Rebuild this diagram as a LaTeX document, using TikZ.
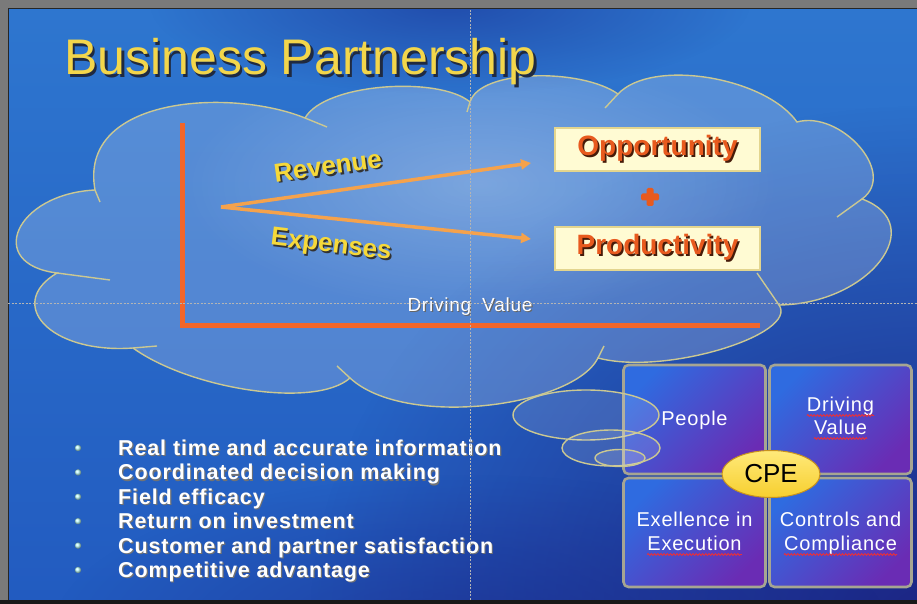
\documentclass[tikz,border=0pt]{standalone}
\usepackage{fontspec}
\setmainfont{Liberation Sans}
\newfontfamily\spacedsans[LetterSpace=4]{Liberation Sans}
\usetikzlibrary{arrows.meta,fadings,shapes.geometric,decorations.pathmorphing}

\definecolor{frame}{HTML}{7A7A7A}
\definecolor{bgtop}{HTML}{2E76CF}
\definecolor{bgmid}{HTML}{2F80D6}
\definecolor{bgbot}{HTML}{225BC0}
\definecolor{bgdeep}{HTML}{1B1E7C}
\definecolor{bgnavy}{HTML}{1C3C9E}
\definecolor{cloudedge}{HTML}{CBC892}
\definecolor{axisorange}{HTML}{F2662A}
\definecolor{arroworange}{HTML}{F5A24C}
\definecolor{titleyellow}{HTML}{F3D64B}
\definecolor{labelyellow}{HTML}{F6D93A}
\definecolor{wordorange}{HTML}{E85A1E}
\definecolor{boxcream}{HTML}{FFFBD3}
\definecolor{boxcreamedge}{HTML}{E3D58E}
\definecolor{quadblue}{HTML}{2F6BE0}
\definecolor{quadpurple}{HTML}{6A2CB4}
\definecolor{quadedge}{HTML}{A6A592}
\definecolor{cpeyellow}{HTML}{F7CF2E}
\definecolor{cpelight}{HTML}{FFE97A}
\definecolor{cpeedge}{HTML}{C8921E}
\definecolor{guide}{HTML}{B4B4B4}
\definecolor{spell}{HTML}{E8303A}
\definecolor{shadowdark}{HTML}{202A40}

\tikzfading[name=softglow, inner color=transparent!35, outer color=transparent!100]
\tikzfading[name=darkcorner, inner color=transparent!0, outer color=transparent!100]

% text with a dark copy offset down and right
\newcommand\dropshadow[3]{\makebox[0pt][l]{\kern#1\raisebox{-#1}{\textcolor{#2}{#3}}}#3}
\newcommand\quadfont{\spacedsans\fontsize{20}{23}\selectfont}
\newlength\spellw

% outline of the large cloud
\newcommand\cloudshape{(95,414) .. controls (78,508) and (231,516) .. (305,486)
 .. controls (325,521) and (439,528) .. (470,502)
 .. controls (480,535) and (581,536) .. (618,510)
 .. controls (652,546) and (765,527) .. (797,482)
 .. controls (840,494) and (898,431) .. (862,405)
 .. controls (930,380) and (870,300) .. (779,299)
 .. controls (799,270) and (666,228) .. (598,246)
 .. controls (573,197) and (405,175) .. (350,226)
 .. controls (315,195) and (190,215) .. (133,256)
 .. controls (50,250) and (5,300) .. (57,331)
 .. controls (-15,340) and (15,410) .. (95,414) -- cycle}

\begin{document}
\begin{tikzpicture}[x=1pt,y=1pt,
  cloudline/.style={draw=cloudedge, line width=1.4pt},
  quad/.style={draw=quadedge, line width=2.6pt, rounded corners=5pt,
     top color=quadblue, bottom color=quadpurple, shading angle=45,
     minimum width=142pt, minimum height=109pt, inner sep=0pt},
  quadtext/.style={anchor=base, inner sep=0pt, text=white, font=\quadfont},
  spellwave/.style={draw=spell, line width=0.9pt, decorate,
     decoration={snake, amplitude=0.9pt, segment length=3.2pt}},
  creambox/.style={fill=boxcream, draw=boxcreamedge, line width=1.2pt,
     minimum width=205pt, minimum height=43pt, inner sep=0pt,
     font=\bfseries\fontsize{28}{30}\selectfont, text=wordorange},
  slantlabel/.style={inner sep=0pt, font=\bfseries\fontsize{26}{28}\selectfont, text=labelyellow},
  flowarrow/.style={draw=arroworange, line width=3.5pt, -{Triangle[length=10pt,width=10pt]}},
  bulletline/.style={anchor=west, inner sep=0pt, text=white, text height=15pt, text depth=0pt,
     font=\spacedsans\bfseries\fontsize{21.5}{24}\selectfont},
  bulletdot/.style={circle, inner sep=0pt, minimum size=6.5pt, ball color=cyan!25!white},
  tailbubble/.style={cloudline, fill=white, fill opacity=0.13},
  guideline/.style={draw=guide, line width=0.7pt, dash pattern=on 2pt off 1.5pt}
]
\useasboundingbox (0,0) rectangle (917,604);

% screen frame and slide background
\fill[frame] (0,0) rectangle (917,604);
\fill[black!90] (0,0) rectangle (917,4);
\begin{scope}
  \clip (8,4) rectangle (917,595);
  \shade[top color=bgtop, middle color=bgmid, bottom color=bgbot] (8,4) rectangle (917,595);
  \fill[bgdeep, path fading=darkcorner, fill opacity=0.9] (930,-20) ellipse [x radius=620pt, y radius=520pt];
  \fill[bgdeep, path fading=darkcorner, fill opacity=0.45] (470,-30) ellipse [x radius=420pt, y radius=160pt];
  \fill[bgnavy, path fading=darkcorner, fill opacity=0.7] (450,600) ellipse [x radius=300pt, y radius=90pt];
\end{scope}
\draw[black!85, line width=1pt] (8,4) -- (8,595) -- (917,595);

% cloud
\fill[white, fill opacity=0.2] \cloudshape;
\begin{scope}
  \clip \cloudshape;
  \fill[white, path fading=softglow, fill opacity=0.35] (480,420) ellipse [x radius=300pt, y radius=130pt];
\end{scope}
\draw[cloudline] \cloudshape;
\draw[cloudline] (95,414) -- (100,402);
\draw[cloudline] (305,486) -- (327,477);
\draw[cloudline] (470,502) -- (467,492);
\draw[cloudline] (618,510) -- (605,496);
\draw[cloudline] (862,405) -- (837,387);
\draw[cloudline] (779,299) -- (757,331);
\draw[cloudline] (598,246) -- (604,258);
\draw[cloudline] (350,226) -- (337,238);
\draw[cloudline] (133,256) -- (157,258);
\draw[cloudline] (57,331) -- (110,324);

% value axes
\coordinate (axistop) at (182,481);
\coordinate (axiscorner) at (182,278);
\coordinate (axisend) at (760,278);
\draw[axisorange, line width=5pt] (axistop) -- (axiscorner) -- (axisend);
\node[inner sep=0pt, text=white, font=\spacedsans\fontsize{19}{21}\selectfont] (drivingvalue) at (470,297)
  {\dropshadow{1.2pt}{black!60}{Driving\hspace{5pt} Value}};

% revenue / expenses flows
\coordinate (fork) at (221,397);
\coordinate (opptip) at (531,441);
\coordinate (prodtip) at (531,365);
\draw[flowarrow] (fork) -- (opptip);
\draw[flowarrow] (fork) -- (prodtip);
\node[slantlabel, rotate=8] (revenue) at (328,437) {\dropshadow{1.8pt}{black!80}{Revenue}};
\node[slantlabel, rotate=-7] (expenses) at (331,357) {\dropshadow{1.8pt}{black!80}{Expenses}};

\node[creambox] (opportunity) at (657.5,454.5) {\dropshadow{1.8pt}{black!70!wordorange}{Opportunity}};
\node[creambox] (productivity) at (657.5,355.5) {\dropshadow{1.8pt}{black!70!wordorange}{Productivity}};
\coordinate (plus) at (650,407);
\fill[wordorange, rounded corners=1.5pt] ([xshift=-9pt,yshift=-3.5pt]plus) rectangle ([xshift=9pt,yshift=3.5pt]plus);
\fill[wordorange, rounded corners=1.5pt] ([xshift=-3.5pt,yshift=-9pt]plus) rectangle ([xshift=3.5pt,yshift=9pt]plus);

% CPE quadrants
\node[quad] (people) at (694.5,184.5) {};
\node[quad] (drivingq) at (840.5,184.5) {};
\node[quad] (excellence) at (694.5,71.5) {};
\node[quad] (controls) at (840.5,71.5) {};

\node[quadtext] (peopletext) at (694.5,178) {People};
\node[quadtext] (drivingtext) at (840.5,192) {Driving};
\node[quadtext] (valuetext) at (840.5,169) {Value};
\node[quadtext] (exellencetext) at (694.5,77) {Exellence in};
\node[quadtext] (executiontext) at (694.5,53) {Execution};
\node[quadtext] (controlstext) at (840.5,77) {Controls and};
\node[quadtext] (compliancetext) at (840.5,53) {Compliance};

% spelling marks under the flagged words
\draw[spellwave] ([yshift=-3.5pt]drivingtext.base west) -- ([yshift=-3.5pt]drivingtext.base east);
\draw[spellwave] ([yshift=-3.5pt]valuetext.base west) -- ([yshift=-3.5pt]valuetext.base east);
\draw[spellwave] ([yshift=-3.5pt]executiontext.base west) -- ([yshift=-3.5pt]executiontext.base east);
\draw[spellwave] ([yshift=-3.5pt]compliancetext.base west) -- ([yshift=-3.5pt]compliancetext.base east);
\settowidth{\spellw}{\quadfont Exellence}
\draw[spellwave] ([yshift=-3.5pt]exellencetext.base west) -- ([xshift=\spellw, yshift=-3.5pt]exellencetext.base west);

% thought-bubble tail of the cloud
\draw[tailbubble] (586,189) ellipse [x radius=73pt, y radius=25pt];
\draw[tailbubble] (611,156) ellipse [x radius=49pt, y radius=18pt];
\draw[tailbubble] (620,146) ellipse [x radius=25pt, y radius=8.5pt];

\node[ellipse, draw=cpeedge, line width=1pt, top color=cpelight, bottom color=cpeyellow,
  minimum width=98pt, minimum height=47pt, inner sep=0pt, font=\fontsize{26}{28}\selectfont] (cpe) at (771,130) {CPE};

% bullet list
\foreach \txt [count=\i] in {Real time and accurate information, Coordinated decision making, Field efficacy, Return on investment, Customer and partner satisfaction, Competitive advantage}{
  \pgfmathsetmacro\yy{156-24.4*(\i-1)}
  \node[bulletdot] (dot\i) at (78,\yy) {};
  \node[bulletline] (item\i) at (118,\yy) {\dropshadow{1.2pt}{black!55}{\txt}};
}

% title
\node[anchor=base west, inner sep=0pt, font=\fontsize{50}{56}\selectfont, text=titleyellow] (title) at (64,529)
  {\dropshadow{2.5pt}{shadowdark}{Business Partnership}};

% layout guides
\draw[guideline] (470,4) -- (470,595);
\draw[guideline] (8,301) -- (917,301);
\end{tikzpicture}
\end{document}
